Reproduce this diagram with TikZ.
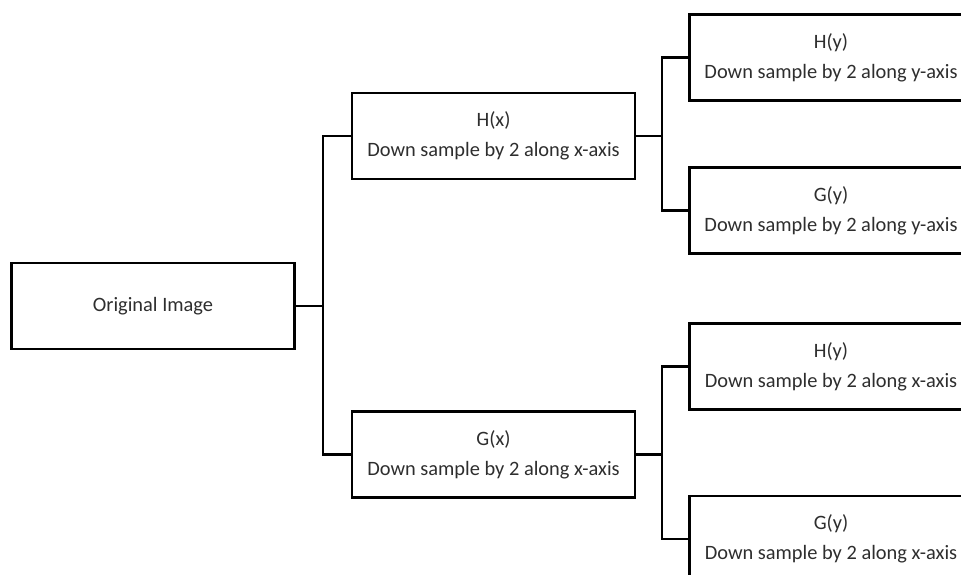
\documentclass[tikz,border=0pt]{standalone}
\usepackage{fontspec}
\setmainfont{Carlito}
\begin{document}
\begin{tikzpicture}[x=1pt,y=-1pt,
  box/.style={draw=black, line width=2.2pt, fill=white, minimum width=283pt, minimum height=86pt,
    inner sep=0pt, align=center, text=black!82,
    font=\fontsize{20.4}{30}\selectfont},
  wire/.style={draw=black, line width=2.2pt}]
\useasboundingbox (0,0) rectangle (961,575);
\clip (0,0) rectangle (961,575);
\fill[white] (0,0) rectangle (961,575);
\node[box] (orig) at (153,306) {Original Image};
\node[box] (hx) at (493.5,136) {H(x)\\Down sample by 2 along x-axis};
\node[box] (gx) at (493.5,454.5) {G(x)\\Down sample by 2 along x-axis};
\node[box] (r1) at (831,57.5) {H(y)\\Down sample by 2 along y-axis};
\node[box] (r2) at (831,210.5) {G(y)\\Down sample by 2 along y-axis};
\node[box] (r3) at (831,366.5) {H(y)\\Down sample by 2 along x-axis};
\node[box] (r4) at (831,539) {G(y)\\Down sample by 2 along x-axis};
\coordinate (b1) at (323,306);
\coordinate (b2) at (662,136);
\coordinate (b3) at (662,454.5);
\draw[wire] (orig.east) -- (b1);
\draw[wire] (hx.west) -| (b1) |- (gx.west);
\draw[wire] (hx.east) -- (b2);
\draw[wire] (r1.west) -| (b2) |- (r2.west);
\draw[wire] (gx.east) -- (b3);
\draw[wire] (r3.west) -| (b3) |- (r4.west);
\end{tikzpicture}
\end{document}
